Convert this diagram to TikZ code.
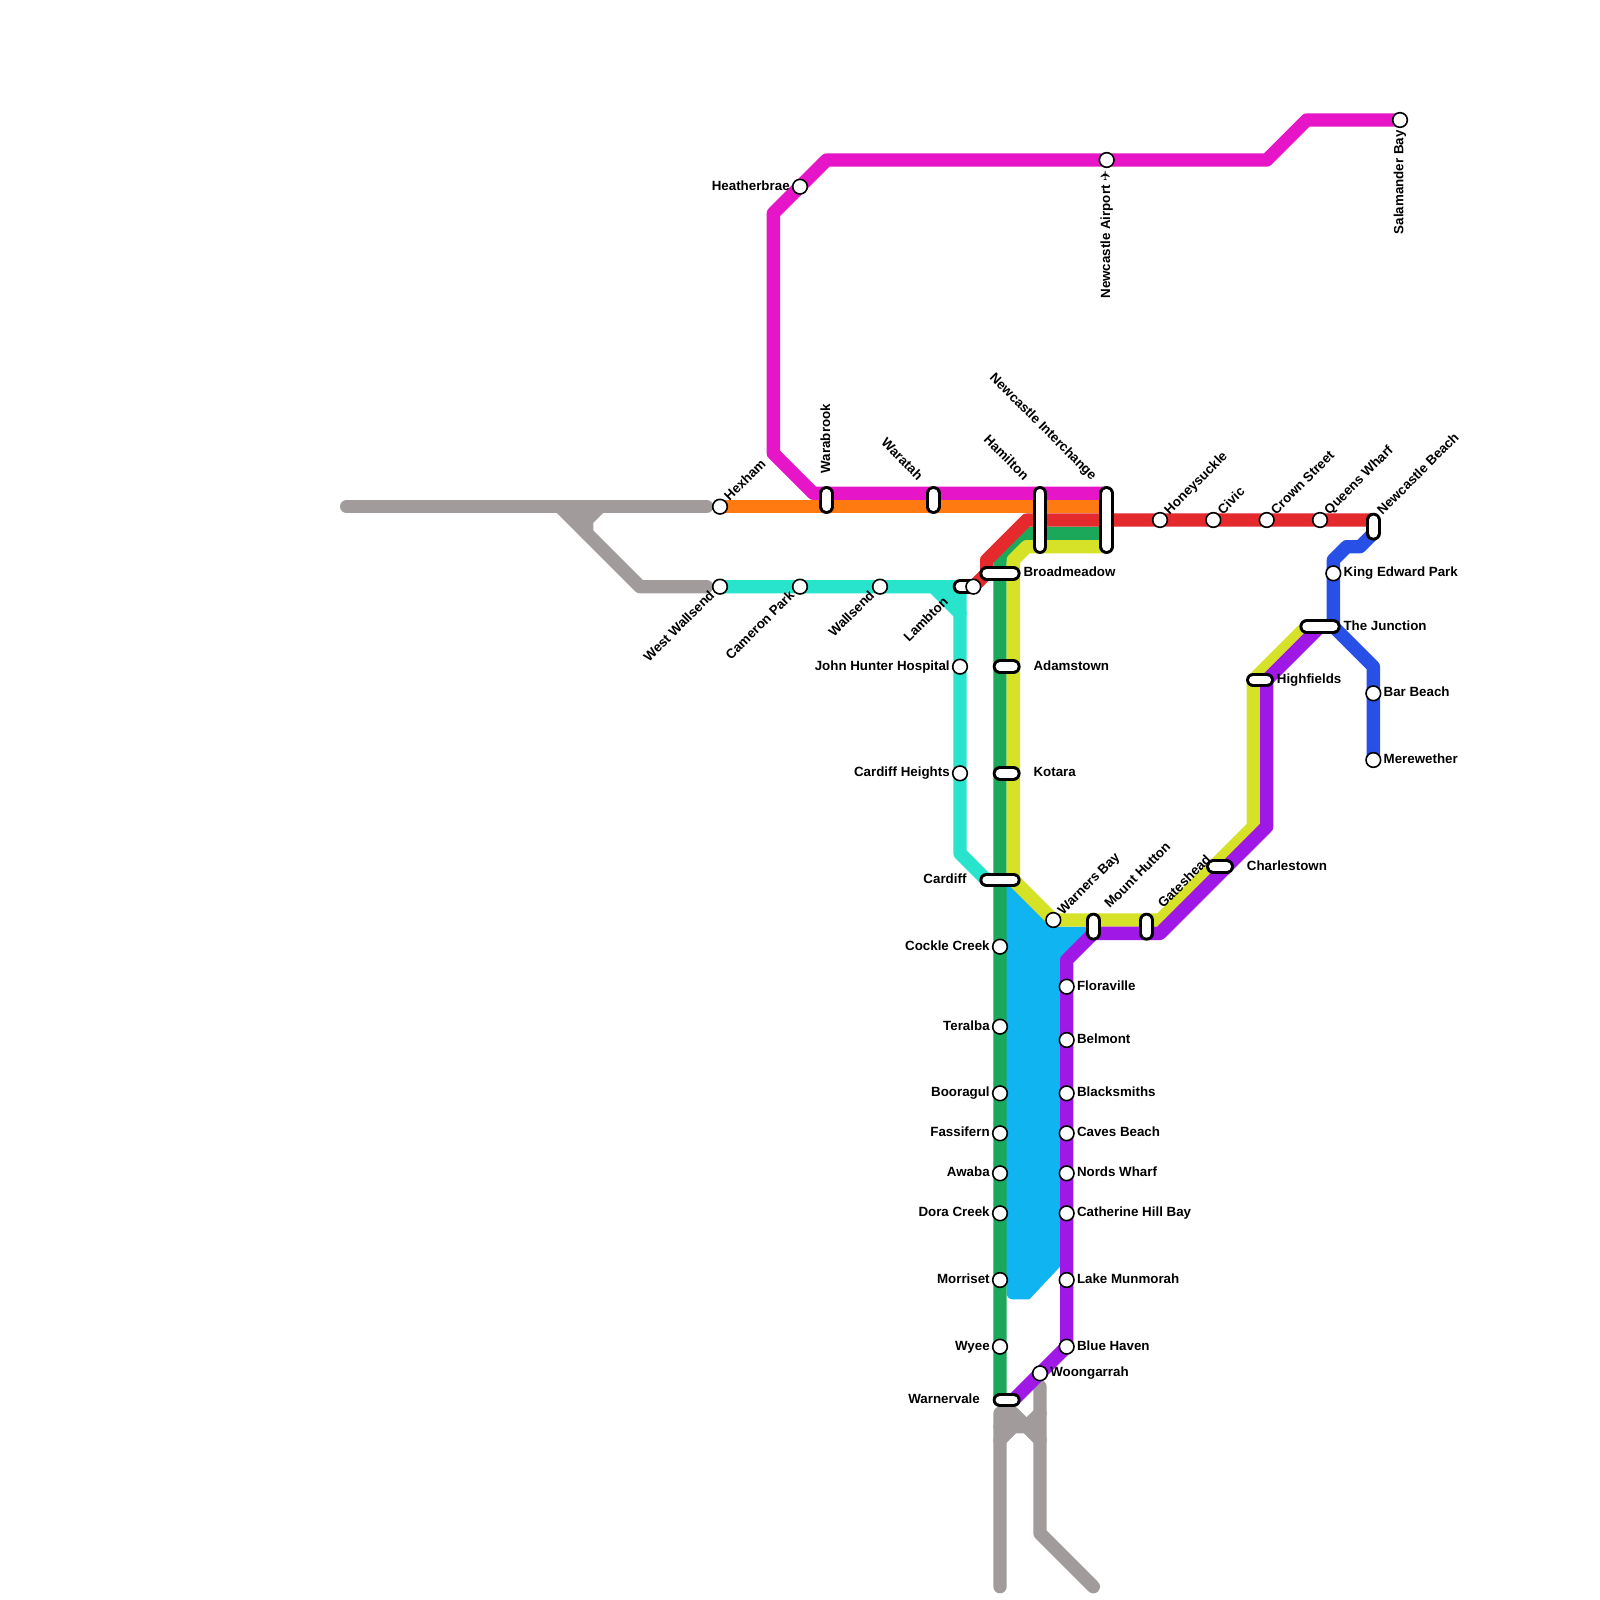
\documentclass[tikz,border=0pt]{standalone}
\usepackage{fontspec}
\setmainfont{Liberation Sans}
\newfontfamily\symfont{DejaVu Sans}
\usetikzlibrary{positioning}
\definecolor{linegrey}{HTML}{A19B9B}
\definecolor{linemagenta}{HTML}{E616C8}
\definecolor{lineorange}{HTML}{FF7A10}
\definecolor{linered}{HTML}{E42A2C}
\definecolor{linegreen}{HTML}{1CA85A}
\definecolor{lineyellow}{HTML}{D6E228}
\definecolor{lineteal}{HTML}{28E4CC}
\definecolor{linepurple}{HTML}{A018E6}
\definecolor{lineblue}{HTML}{2850E6}
\definecolor{lakeblue}{HTML}{10B4F0}
\tikzset{
  metro/.style={line width=6.667pt,line join=round,line cap=round},
  stn/.style={circle,draw=black,fill=white,line width=0.8pt,minimum size=7.33pt,inner sep=0pt},
  pill/.style={draw=black,double=white,double distance=4.4pt,line width=1.45pt,line cap=round},
  lab/.style={font=\fontsize{6.67}{8}\selectfont\bfseries,inner sep=0.9pt,text height=0.72em,text depth=0.38em},
}
\begin{document}
\begin{tikzpicture}[x=6.667pt,y=-6.667pt]
  \useasboundingbox (0,0) rectangle (120,120);
  % lake
  \fill[lakeblue] (75,66) -- (76,66) -- (79,69) -- (79,69.5) -- (82,69.5) -- (82,70.5) -- (79.5,73) -- (79.5,95)
    -- (77.2,97.45) -- (76.2,97.45) [rounded corners=3pt] -- (75.5,97.45) -- (75.5,96) [sharp corners] -- (75,96) -- cycle;
  % disused track
  \draw[metro,linegrey] (26,38) -- (53,38);
  \draw[metro,linegrey] (42,38) -- (48,44) -- (53,44);
  \draw[metro,linegrey] (45,38) -- (44,39) -- (44,40);
  \fill[linegrey] (42,38) -- (45,38) -- (44,39) -- (44,40) -- cycle;
  \draw[metro,linegrey] (75,119) -- (75,106) -- (76,106) -- (78,108);
  \draw[metro,linegrey] (75,108) -- (76,107) -- (77,107) -- (78,106);
  \draw[metro,linegrey] (75,107) -- (77,107);
  \draw[metro,linegrey] (78,104) -- (78,115) -- (82,119);
  % lines
  \draw[metro,linemagenta] (105,9) -- (98,9) -- (95,12) -- (62,12) -- (58,16) -- (58,34) -- (61,37) -- (83,37);
  \draw[metro,lineorange] (54,38) -- (83,38);
  \draw[metro,lineteal] (54,44) -- (72,44) -- (72,64) -- (74,66);
  \draw[metro,lineteal] (70,44) -- (72,46);
  \fill[lineteal] (70,44) -- (72,44) -- (72,46) -- cycle;
  \draw[metro,linegreen] (83,40) -- (77,40) -- (75,42) -- (75,105);
  \draw[metro,lineyellow] (83,41) -- (77,41) -- (76,42) -- (76,66) -- (79,69) -- (87,69) -- (94,62) -- (94,51) -- (98,47);
  \draw[metro,linepurple] (99,47) -- (95,51) -- (95,62) -- (87,70) -- (82,70) -- (80,72) -- (80,101) -- (76,105);
  \draw[metro,linered] (103,39) -- (77,39) -- (74,42) -- (74,43) -- (73,44);
  \draw[metro,lineblue] (103,40) -- (102,41) -- (101,41) -- (100,42) -- (100,47) -- (103,50) -- (103,57);
  % pills
  \draw[pill] (62,37) -- (62,38);
  \draw[pill] (70,37) -- (70,38);
  \draw[pill] (78,37) -- (78,41);
  \draw[pill] (83,37) -- (83,41);
  \draw[pill] (103,39) -- (103,40);
  \draw[pill] (72,44) -- (73,44);
  \draw[pill] (74,43) -- (76,43);
  \draw[pill] (75,50) -- (76,50);
  \draw[pill] (75,58) -- (76,58);
  \draw[pill] (74,66) -- (76,66);
  \draw[pill] (82,69) -- (82,70);
  \draw[pill] (86,69) -- (86,70);
  \draw[pill] (91,65) -- (92,65);
  \draw[pill] (94,51) -- (95,51);
  \draw[pill] (98,47) -- (100,47);
  \draw[pill] (75,105) -- (76,105);
  % stations
  \node[stn] (salamander) at (105,9) {};
  \node[stn] (airport) at (83,12) {};
  \node[stn] (heatherbrae) at (60,14) {};
  \node[stn] (hexham) at (54,38) {};
  \node[stn] (westwallsend) at (54,44) {};
  \node[stn] (cameron) at (60,44) {};
  \node[stn] (wallsend) at (66,44) {};
  \node[stn] (lambton) at (73,44) {};
  \node[stn] (hunter) at (72,50) {};
  \node[stn] (cardiffh) at (72,58) {};
  \node[stn] (honeysuckle) at (87,39) {};
  \node[stn] (civic) at (91,39) {};
  \node[stn] (crown) at (95,39) {};
  \node[stn] (queens) at (99,39) {};
  \node[stn] (kingedward) at (100,43) {};
  \node[stn] (barbeach) at (103,52) {};
  \node[stn] (merewether) at (103,57) {};
  \node[stn] (warners) at (79,69) {};
  \node[stn] (cockle) at (75,71) {};
  \node[stn] (teralba) at (75,77) {};
  \node[stn] (booragul) at (75,82) {};
  \node[stn] (fassifern) at (75,85) {};
  \node[stn] (awaba) at (75,88) {};
  \node[stn] (dora) at (75,91) {};
  \node[stn] (morriset) at (75,96) {};
  \node[stn] (wyee) at (75,101) {};
  \node[stn] (floraville) at (80,74) {};
  \node[stn] (belmont) at (80,78) {};
  \node[stn] (blacksmiths) at (80,82) {};
  \node[stn] (caves) at (80,85) {};
  \node[stn] (nords) at (80,88) {};
  \node[stn] (catherine) at (80,91) {};
  \node[stn] (munmorah) at (80,96) {};
  \node[stn] (bluehaven) at (80,101) {};
  \node[stn] (woongarrah) at (78,103) {};
  % labels
  \node[lab,rotate=90,anchor=east] at (salamander.south) {Salamander Bay};
  \node[lab,rotate=90,anchor=east] at (airport.south) {Newcastle Airport {\symfont ✈}};
  \node[lab,left=0pt of heatherbrae] {Heatherbrae};
  \node[lab,rotate=45,anchor=west] at (hexham.45) {Hexham};
  \node[lab,rotate=45,anchor=east] at (westwallsend.225) {West Wallsend};
  \node[lab,rotate=45,anchor=east] at (cameron.225) {Cameron Park};
  \node[lab,rotate=45,anchor=east] at (wallsend.225) {Wallsend};
  \node[lab,rotate=45,anchor=east] at (71.1,44.9) {Lambton};
  \node[lab,left=0pt of hunter] {John Hunter Hospital};
  \node[lab,left=0pt of cardiffh] {Cardiff Heights};
  \node[lab,rotate=90,anchor=west] at (62,35.65) {Warabrook};
  \node[lab,rotate=-45,anchor=east] at (69.1,36) {Waratah};
  \node[lab,rotate=-45,anchor=east] at (77.05,36) {Hamilton};
  \node[lab,rotate=-45,anchor=east] at (82.15,36) {Newcastle Interchange};
  \node[lab,rotate=45,anchor=west] at (honeysuckle.45) {Honeysuckle};
  \node[lab,rotate=45,anchor=west] at (civic.45) {Civic};
  \node[lab,rotate=45,anchor=west] at (crown.45) {Crown Street};
  \node[lab,rotate=45,anchor=west] at (queens.45) {Queens Wharf};
  \node[lab,rotate=45,anchor=west] at (103.4,38.6) {Newcastle Beach};
  \node[lab,right=0pt of kingedward] {King Edward Park};
  \node[lab,anchor=west] at (100.6,47) {The Junction};
  \node[lab,anchor=west] at (95.6,51) {Highfields};
  \node[lab,right=0pt of barbeach] {Bar Beach};
  \node[lab,right=0pt of merewether] {Merewether};
  \node[lab,anchor=west] at (76.6,43) {Broadmeadow};
  \node[lab,anchor=west] at (77.35,50) {Adamstown};
  \node[lab,anchor=west] at (77.35,58) {Kotara};
  \node[lab,anchor=east] at (72.65,66) {Cardiff};
  \node[lab,rotate=45,anchor=west] at (warners.45) {Warners Bay};
  \node[lab,rotate=45,anchor=west] at (82.95,68.1) {Mount Hutton};
  \node[lab,rotate=45,anchor=west] at (86.95,68.1) {Gateshead};
  \node[lab,anchor=west] at (93.35,65) {Charlestown};
  \node[lab,left=0pt of cockle] {Cockle Creek};
  \node[lab,left=0pt of teralba] {Teralba};
  \node[lab,left=0pt of booragul] {Booragul};
  \node[lab,left=0pt of fassifern] {Fassifern};
  \node[lab,left=0pt of awaba] {Awaba};
  \node[lab,left=0pt of dora] {Dora Creek};
  \node[lab,left=0pt of morriset] {Morriset};
  \node[lab,left=0pt of wyee] {Wyee};
  \node[lab,anchor=east] at (73.65,105) {Warnervale};
  \node[lab,right=0pt of floraville] {Floraville};
  \node[lab,right=0pt of belmont] {Belmont};
  \node[lab,right=0pt of blacksmiths] {Blacksmiths};
  \node[lab,right=0pt of caves] {Caves Beach};
  \node[lab,right=0pt of nords] {Nords Wharf};
  \node[lab,right=0pt of catherine] {Catherine Hill Bay};
  \node[lab,right=0pt of munmorah] {Lake Munmorah};
  \node[lab,right=0pt of bluehaven] {Blue Haven};
  \node[lab,right=0pt of woongarrah] {Woongarrah};
\end{tikzpicture}
\end{document}
